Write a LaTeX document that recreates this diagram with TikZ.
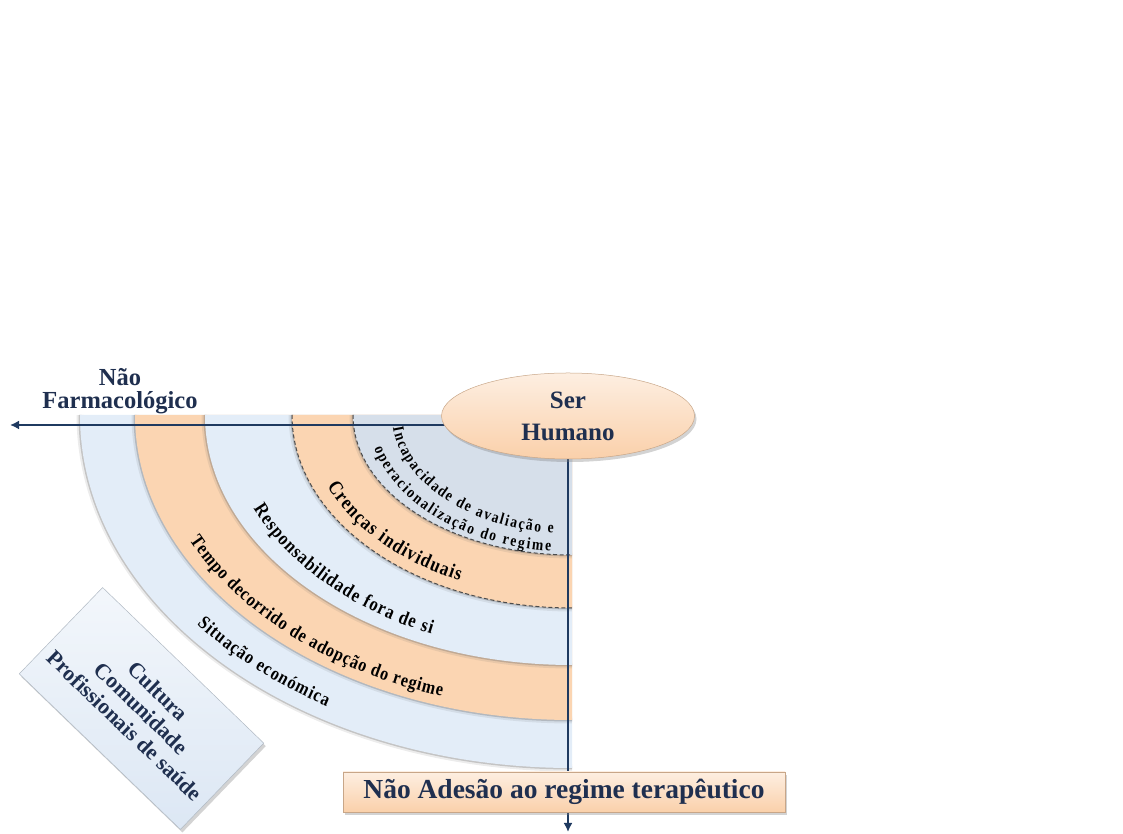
\documentclass[tikz,border=0pt]{standalone}
\usepackage{fontspec}
\setmainfont{Liberation Serif}
\newfontfamily\arcofonte[FakeStretch=0.85]{Liberation Serif}
\usetikzlibrary{shapes.geometric,shadows,decorations.text,arrows.meta}
\definecolor{azulescuro}{HTML}{1F3A60}
\definecolor{textoazul}{HTML}{1F2F4F}
\definecolor{faixaazul}{HTML}{E3EDF8}
\definecolor{faixalaranja}{HTML}{FBD5B2}
\definecolor{faixacinza}{HTML}{D6DFEA}
\definecolor{pessego}{HTML}{FAD0AA}
\definecolor{caixaazul}{HTML}{DCE7F4}
\pgfdeclarelayer{faixas}
\pgfdeclarelayer{eixos}
\pgfsetlayers{faixas,eixos,main}
\tikzset{seta/.style={azulescuro, line width=2.6pt, -{Latex[length=9pt,width=9pt]}},
  sombra/.style={draw=black!60, line width=3pt, opacity=.3,
    preaction={draw=black!60, line width=7pt, opacity=.12}},
  limite/.style={draw=black!70, line width=1pt, dash pattern=on 4pt off 2.5pt},
  rotulo/.style 2 args={font=\fontsize{#1}{#2}\selectfont\bfseries, text=textoazul, align=center},
  caixa/.style={draw=#1!80!black, line width=.5pt, top color=#1!35!white, bottom color=#1,
    drop shadow={opacity=.35, shadow xshift=2pt, shadow yshift=-3pt}},
  arco/.style args={#1/#2}{decorate, decoration={text along path,
    text={|\arcofonte\fontsize{#1}{#1}\selectfont\bfseries|#2}, text align=fit to path}}}

\begin{document}
\begin{tikzpicture}[x=1pt, y=1pt]
  \useasboundingbox (0,0) rectangle (1123,834);
  \coordinate (oeste) at (10,409);
  \coordinate (sul) at (568,2);

  \begin{pgfonlayer}{faixas}
  \begin{scope}[shift={(572,419)}]
    \foreach \rx/\ry/\cor in {492/353/faixaazul, 437/305/faixalaranja, 367/250/faixaazul, 280/193/faixalaranja, 219/140/faixacinza}{
      \draw[sombra] (180:\rx pt and \ry pt) arc[start angle=180, end angle=270, x radius=\rx pt, y radius=\ry pt];
      \fill[\cor] (0,0) -- (180:\rx pt and \ry pt) arc[start angle=180, end angle=270, x radius=\rx pt, y radius=\ry pt] -- cycle;
    }
    \draw[limite] (180:280 and 193) arc[start angle=180, end angle=270, x radius=280, y radius=193];
    \draw[limite] (180:219 and 140) arc[start angle=180, end angle=270, x radius=219, y radius=140];
    \path[arco=16/Incapacidade de avaliação e] (186:180 and 119) arc[start angle=186, end angle=264, x radius=180, y radius=119];
    \path[arco=16/operacionalização do regime] (194:204 and 137) arc[start angle=194, end angle=264, x radius=204, y radius=137];
    \path[arco=20/Crenças individuais] (203:266 and 183) arc[start angle=203, end angle=245, x radius=266, y radius=183];
    \path[arco=19.5/Responsabilidade fora de si] (203:346 and 240) arc[start angle=203, end angle=246, x radius=346, y radius=240];
    \path[arco=19/Tempo decorrido de adopção do regime] (205:422 and 296) arc[start angle=205, end angle=252, x radius=422, y radius=296];
    \path[arco=19/Situação económica] (218:476 and 340) arc[start angle=218, end angle=239, x radius=476, y radius=340];
  \end{scope}
  \end{pgfonlayer}

  \node[caixa=pessego, ellipse, minimum width=253pt, minimum height=86pt, rotulo={25}{32}] (ser) at (568,418) {Ser\\Humano};
  \node[rotulo={24.5}{23}] (naofarm) at (120,443) {Não\\Farmacológico};
  \node[caixa=pessego, minimum width=442pt, minimum height=40pt, rotulo={27.5}{30}] (adesao) at (564,42) {Não Adesão ao regime terapêutico};
  \node[caixa=caixaazul, minimum width=224pt, minimum height=120pt, rotate=-44, rotulo={22}{24}] (contexto) at (141.5,125.5) {Cultura\\Comunidade\\Profissionais de saúde};

  \begin{pgfonlayer}{eixos}
    \draw[seta] (ser.center |- oeste) -- (oeste);
    \draw[seta] (ser) -- (sul);
  \end{pgfonlayer}
\end{tikzpicture}
\end{document}
